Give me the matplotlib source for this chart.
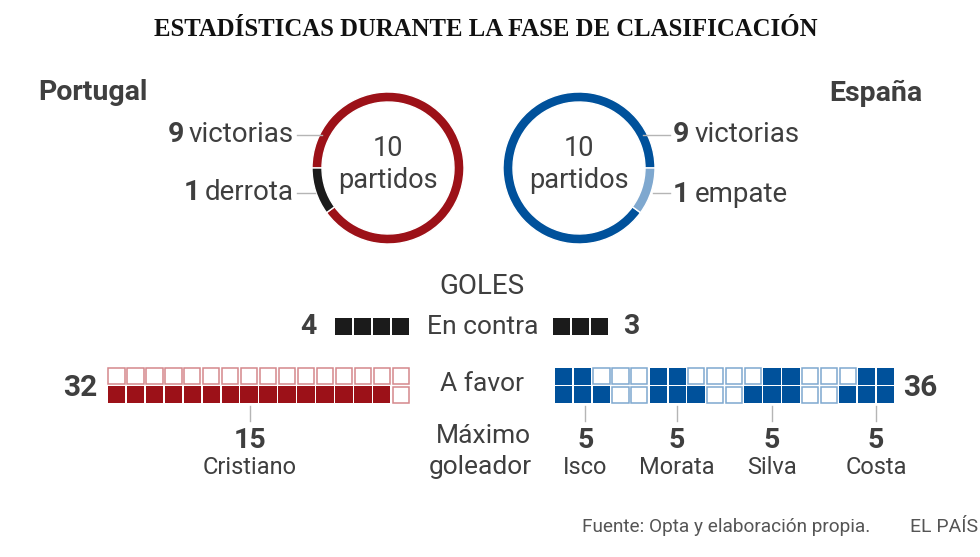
import matplotlib.pyplot as plt
from matplotlib.patches import Wedge, Rectangle

# --- datos ---
titulo = 'ESTADÍSTICAS DURANTE LA FASE DE CLASIFICACIÓN'
equipos = ['Portugal', 'España']
partidos = [10, 10]
por_resultados = [9, 1]
por_etiquetas = ['victorias', 'derrota']
esp_resultados = [9, 1]
esp_etiquetas = ['victorias', 'empate']

goles_contra = [4, 3]
goles_favor = [32, 36]

por_goleador = 'Cristiano'
por_goles_goleador = 15
por_cols = 16

esp_goleadores = ['Isco', 'Morata', 'Silva', 'Costa']
esp_goles_goleadores = [5, 5, 5, 5]
esp_tick_cols = [1.15, 6.0, 11.0, 16.5]
esp_rejilla = ['110001100001100011',
               '111001110011100111']

fuente = 'Fuente: Opta y elaboración propia.'
firma = 'EL PAÍS'

# --- colores ---
rojo = '#9c1118'
rojo_claro = '#d4888c'
negro = '#1b1b1b'
azul = '#00519b'
azul_claro = '#7fa8cf'
gris = '#3f3f3f'
linea = '#b5b5b5'

T = 19      # texto general
N = 20.5    # numeros en negrita

plt.rcParams['font.family'] = ['Roboto', 'DejaVu Sans']

fig = plt.figure(figsize=(9.8, 5.57), dpi=100)
ax = fig.add_axes([0, 0, 1, 1])
ax.set_xlim(0, 980)
ax.set_ylim(557, 0)
ax.axis('off')
fig.canvas.draw()
renderer = fig.canvas.get_renderer()


def ancho(t):
    bb = t.get_window_extent(renderer)
    return bb.width


def etiqueta(x, y, num, txt, lado, size=20):
    # numero en negrita + texto normal, alineado a la derecha o izquierda
    if lado == 'right':
        t2 = ax.text(x, y, txt, ha='right', va='center', fontsize=size, color=gris)
        w = ancho(t2)
        ax.text(x - w - 5, y, str(num), ha='right', va='center', fontsize=N,
                fontweight='bold', color=gris)
    else:
        t1 = ax.text(x, y, str(num), ha='left', va='center', fontsize=N,
                     fontweight='bold', color=gris)
        w = ancho(t1)
        ax.text(x + w + 5, y, txt, ha='left', va='center', fontsize=size, color=gris)


ax.text(486, 30, titulo, ha='center', va='center', fontsize=17.8,
        fontweight='bold', family='Liberation Serif', color='#111111')
ax.text(38, 93, equipos[0], ha='left', va='center', fontsize=20.5,
        fontweight='bold', color=gris)
ax.text(922, 93, equipos[1], ha='right', va='center', fontsize=20.5,
        fontweight='bold', color=gris)

# --- anillos ---
anillos = [((388, 168), por_resultados, [rojo, negro], 180, -1),
           ((579, 168), esp_resultados, [azul, azul_claro], 0, 1)]
for (cx, cy), vals, cols, ref, sentido in anillos:
    total = sum(vals)
    seg = 360 * vals[1] / total
    # eje y invertido: angulos en datos reflejados
    if sentido == -1:
        a1, a2 = ref - seg, ref
    else:
        a1, a2 = ref, ref + seg
    ax.add_patch(Wedge((cx, cy), 76, a2, a1 + 360, width=10, facecolor=cols[0],
                       edgecolor='white', linewidth=1))
    ax.add_patch(Wedge((cx, cy), 76, a1, a2, width=10, facecolor=cols[1],
                       edgecolor='white', linewidth=1))
for cx, n in zip([388, 579], partidos):
    ax.text(cx, 149, str(n), ha='center', va='center', fontsize=19.5, color=gris)
    ax.text(cx, 180, 'partidos', ha='center', va='center', fontsize=19.5, color=gris)

ax.plot([297, 322], [135, 135], color=linea, lw=1)
ax.plot([297, 315], [193, 193], color=linea, lw=1)
etiqueta(294, 134, por_resultados[0], por_etiquetas[0], 'right')
etiqueta(294, 193, por_resultados[1], por_etiquetas[1], 'right')
ax.plot([643, 670], [135, 135], color=linea, lw=1)
ax.plot([653, 670], [193, 193], color=linea, lw=1)
etiqueta(673, 134, esp_resultados[0], esp_etiquetas[0], 'left')
etiqueta(673, 195, esp_resultados[1], esp_etiquetas[1], 'left')

# --- goles ---
ax.text(482, 287, 'GOLES', ha='center', va='center', fontsize=20, color=gris)
ax.text(483, 327, 'En contra', ha='center', va='center', fontsize=T, color=gris)
ax.text(482, 384, 'A favor', ha='center', va='center', fontsize=T, color=gris)
ax.text(483, 436, 'Máximo', ha='center', va='center', fontsize=T, color=gris)
ax.text(480, 467, 'goleador', ha='center', va='center', fontsize=T, color=gris)

paso = 18.95
for i in range(goles_contra[0]):
    ax.add_patch(Rectangle((335 + i * 19, 317.5), 17, 17, facecolor=negro, edgecolor='none'))
for i in range(goles_contra[1]):
    ax.add_patch(Rectangle((553 + i * 19, 317.5), 17, 17, facecolor=negro, edgecolor='none'))
ax.text(308, 326, str(goles_contra[0]), ha='center', va='center', fontsize=N,
        fontweight='bold', color=gris)
ax.text(631, 326, str(goles_contra[1]), ha='center', va='center', fontsize=N,
        fontweight='bold', color=gris)


def celda(x, y, lleno, c_lleno, c_borde):
    if lleno:
        ax.add_patch(Rectangle((x + 0.8, y + 0.8), paso - 1.6, 18.5 - 1.6,
                               facecolor=c_lleno, edgecolor='none'))
    else:
        ax.add_patch(Rectangle((x + 1.3, y + 1.3), paso - 2.6, 18.5 - 2.6,
                               facecolor='white', edgecolor=c_borde, linewidth=1.1))


# Portugal: se llena la fila inferior de izquierda a derecha
x0p, y0 = 107, 367
for k in range(goles_favor[0]):
    fila = k // por_cols
    col = k % por_cols
    lleno = fila == 0 and col < por_goles_goleador
    celda(x0p + col * paso, y0 + (1 - fila) * 18.5, lleno, rojo, rojo_claro)

x0e = 554
for r, filas in enumerate(esp_rejilla):
    for c, v in enumerate(filas):
        celda(x0e + c * paso, y0 + r * 18.5, v == '1', azul, azul_claro)

ax.text(97, 388, str(goles_favor[0]), ha='right', va='center', fontsize=21.5,
        fontweight='bold', color=gris)
ax.text(903, 388, str(goles_favor[1]), ha='left', va='center', fontsize=21.5,
        fontweight='bold', color=gris)

# goleadores
xp = 250
ax.plot([xp, xp], [406, 421], color=linea, lw=1)
ax.text(xp, 440, str(por_goles_goleador), ha='center', va='center', fontsize=N,
        fontweight='bold', color=gris)
ax.text(xp, 468, por_goleador, ha='center', va='center', fontsize=17, color=gris)
for nombre, g, tc in zip(esp_goleadores, esp_goles_goleadores, esp_tick_cols):
    x = x0e + (tc + 0.5) * paso
    ax.plot([x, x], [406, 421], color=linea, lw=1)
    ax.text(x, 440, str(g), ha='center', va='center', fontsize=N,
            fontweight='bold', color=gris)
    ax.text(x, 468, nombre, ha='center', va='center', fontsize=17, color=gris)

ax.text(870, 527, fuente, ha='right', va='center', fontsize=13.7, color='#555555')
ax.text(978, 527, firma, ha='right', va='center', fontsize=14, color='#555555')

fig.savefig('out.png', dpi=100)
